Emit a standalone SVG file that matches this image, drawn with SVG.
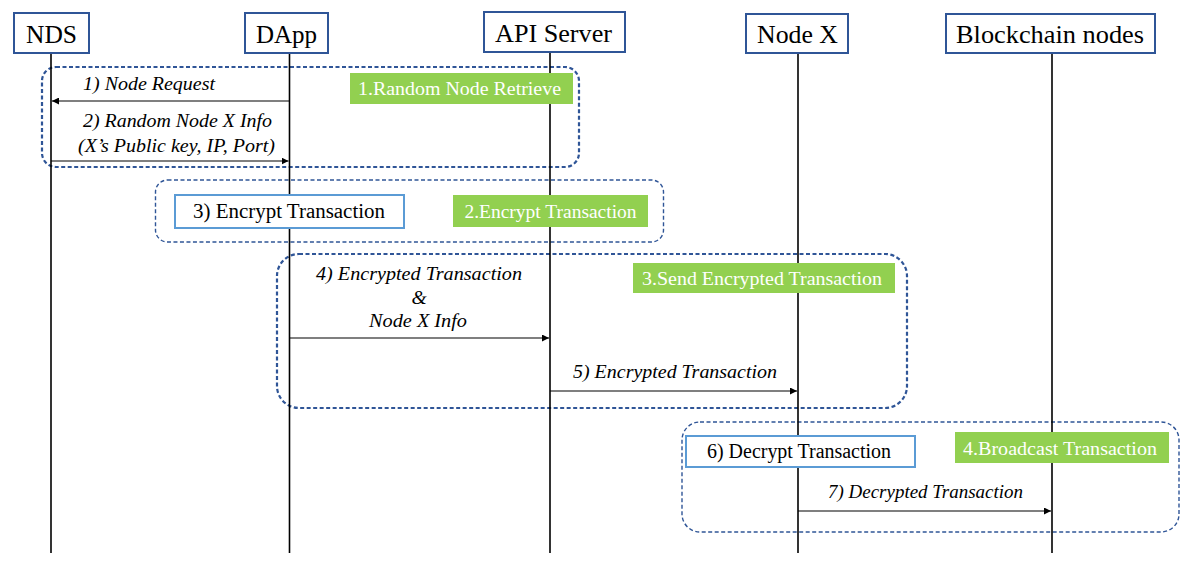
<svg xmlns="http://www.w3.org/2000/svg" width="1202" height="568" viewBox="0 0 1202 568">
<style>
text{font-family:'Liberation Serif','Times New Roman','DejaVu Serif',serif}
.hdr{fill:#fff;stroke:#2F5597;stroke-width:2}
.hdrt{font-size:25px;fill:#000;text-anchor:middle}
.life{stroke:#000;stroke-width:1.6}
.grp{fill:none;stroke:#2F5597;stroke-dasharray:4 2.5}
.g1{stroke-width:2.2}
.g2{stroke-width:1.4}
.green{fill:#92D050}
.greent{font-size:19.5px;fill:#fff;text-anchor:middle}
.act{fill:#fff;stroke:#5B9BD5;stroke-width:2}
.actt{font-size:20px;fill:#000;text-anchor:middle}
.msg{stroke:#000;stroke-width:1.2;fill:none}
.msgt{font-style:italic;font-size:19.5px;fill:#000;text-anchor:middle}
</style>
<defs>
<marker id="ah" viewBox="0 0 10 10" refX="10" refY="5" markerWidth="7" markerHeight="7" markerUnits="userSpaceOnUse" orient="auto">
<path d="M0,0 L10,5 L0,10 z" fill="#000"/>
</marker>
</defs>
<rect width="1202" height="568" fill="#fff"/>

<g id="groups">
<rect class="grp g1" x="42" y="67" width="537" height="100" rx="14"/>
<rect class="grp g2" x="155.5" y="180" width="508" height="62" rx="12"/>
<rect class="grp g1" x="277" y="254" width="630" height="154" rx="22"/>
<rect class="grp g2" x="682" y="422" width="497" height="110" rx="18"/>
</g>

<g id="lifelines">
<line class="life" x1="51" y1="53" x2="51" y2="553"/>
<line class="life" x1="289.5" y1="53" x2="289.5" y2="553"/>
<line class="life" x1="550" y1="52" x2="550" y2="553"/>
<line class="life" x1="798" y1="53" x2="798" y2="553"/>
<line class="life" x1="1052" y1="53" x2="1052" y2="553"/>
</g>

<g id="node-nds"><rect class="hdr" x="14" y="13" width="75" height="40"/><text class="hdrt" x="51.5" y="43" textLength="51" lengthAdjust="spacingAndGlyphs">NDS</text></g>
<g id="node-dapp"><rect class="hdr" x="245" y="13" width="83" height="40"/><text class="hdrt" x="286.5" y="43">DApp</text></g>
<g id="node-api"><rect class="hdr" x="484" y="12" width="141" height="40"/><text class="hdrt" x="553.5" y="42" textLength="117" lengthAdjust="spacingAndGlyphs">API Server</text></g>
<g id="node-nodex"><rect class="hdr" x="746" y="14" width="102" height="39"/><text class="hdrt" x="797.5" y="43" textLength="81" lengthAdjust="spacingAndGlyphs">Node X</text></g>
<g id="node-bc"><rect class="hdr" x="946" y="14" width="209" height="39"/><text class="hdrt" x="1050" y="43" textLength="188" lengthAdjust="spacingAndGlyphs">Blockchain nodes</text></g>

<g id="phase1"><rect class="green" x="350" y="73" width="223" height="31"/><text class="greent" x="459.5" y="95" textLength="203" lengthAdjust="spacingAndGlyphs">1.Random Node Retrieve</text></g>
<g id="phase2"><rect class="green" x="453" y="195" width="195" height="32"/><text class="greent" x="550.5" y="218">2.Encrypt Transaction</text></g>
<g id="phase3"><rect class="green" x="633" y="263" width="262" height="30"/><text class="greent" x="762" y="285" textLength="240" lengthAdjust="spacingAndGlyphs">3.Send Encrypted Transaction</text></g>
<g id="phase4"><rect class="green" x="955" y="432" width="214" height="31"/><text class="greent" x="1060" y="455" textLength="194" lengthAdjust="spacingAndGlyphs">4.Broadcast Transaction</text></g>

<g id="act-encrypt"><rect class="act" x="175" y="195" width="229" height="33"/><text class="actt" x="289" y="218" textLength="192" lengthAdjust="spacingAndGlyphs">3) Encrypt Transaction</text></g>
<g id="act-decrypt"><rect class="act" x="686" y="436" width="229" height="31"/><text class="actt" x="799" y="458" textLength="184" lengthAdjust="spacingAndGlyphs">6) Decrypt Transaction</text></g>

<g id="connectors">
<line class="msg" x1="289.5" y1="101" x2="52" y2="101" marker-end="url(#ah)"/>
<line class="msg" x1="51" y1="161" x2="288.5" y2="161" stroke="#444" marker-end="url(#ah)"/>
<line class="msg" x1="289.5" y1="338" x2="549" y2="338" marker-end="url(#ah)"/>
<line class="msg" x1="550" y1="391" x2="797" y2="391" marker-end="url(#ah)"/>
<line class="msg" x1="798" y1="511" x2="1051" y2="511" stroke="#444" marker-end="url(#ah)"/>
</g>

<g id="labels">
<text class="msgt" x="149" y="90" textLength="132" lengthAdjust="spacingAndGlyphs">1) Node Request</text>
<text class="msgt" x="177.5" y="127" textLength="189" lengthAdjust="spacingAndGlyphs">2) Random Node X Info</text>
<text class="msgt" x="176.5" y="152" textLength="197" lengthAdjust="spacingAndGlyphs">(X’s Public key, IP, Port)</text>
<text class="msgt" x="419" y="280" textLength="206" lengthAdjust="spacingAndGlyphs">4) Encrypted Transaction</text>
<text class="msgt" x="419" y="304">&amp;</text>
<text class="msgt" x="418" y="327" textLength="98" lengthAdjust="spacingAndGlyphs">Node X Info</text>
<text class="msgt" x="675" y="378" textLength="204" lengthAdjust="spacingAndGlyphs">5) Encrypted Transaction</text>
<text class="msgt" x="925.5" y="498" textLength="195" lengthAdjust="spacingAndGlyphs">7) Decrypted Transaction</text>
</g>
</svg>
